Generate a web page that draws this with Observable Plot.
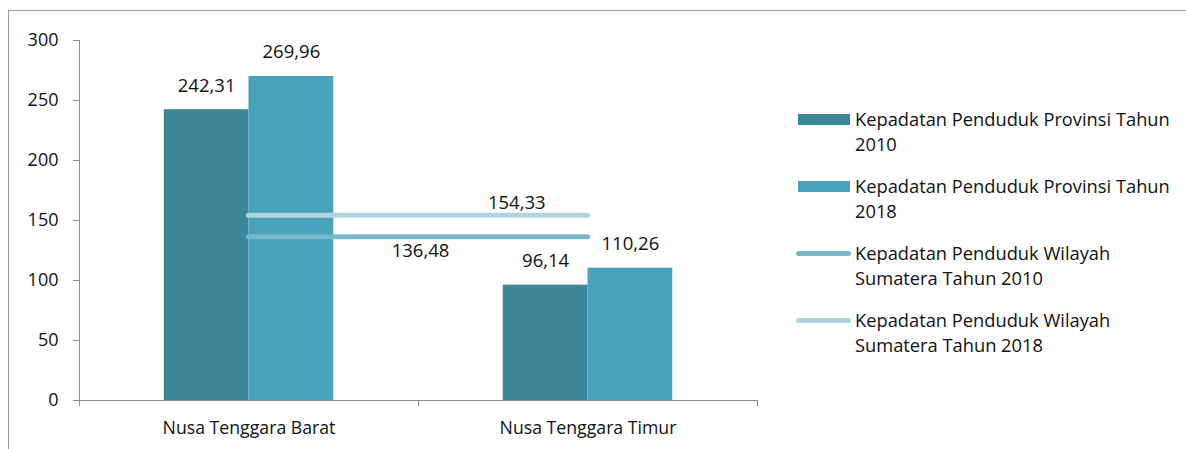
<!DOCTYPE html>
<html>
<head>
<meta charset="utf-8">
<script src="https://cdn.jsdelivr.net/npm/d3@7"></script>
<script src="https://cdn.jsdelivr.net/npm/@observablehq/plot@0.6"></script>
<style>
  html, body { margin: 0; padding: 0; background: #fff; }
  body { width: 1186px; height: 449px; position: relative; overflow: hidden; font-family: "Open Sans", Lato, sans-serif; }
  #frame { position: absolute; left: 8px; top: 10px; width: 1190px; height: 450px; border-left: 1px solid #9a9a9a; border-top: 1px solid #9a9a9a; }
  #chart { position: absolute; left: 0; top: 0; }
  #legend { position: absolute; left: 796px; top: 107px; font-size: 18.3px; color: #111; }
  .item { position: relative; height: 67px; }
  .sw { position: absolute; left: 2px; top: 7px; width: 52px; height: 11px; }
  .ln { position: absolute; left: 0; top: 10px; width: 55px; height: 5px; border-radius: 3px; }
  .tx { position: absolute; left: 59px; top: -1px; line-height: 25px; white-space: nowrap; }
</style>
</head>
<body>
<div id="frame"></div>
<div id="chart"></div>
<div id="legend"></div>
<script>
const categories = ["Nusa Tenggara Barat", "Nusa Tenggara Timur"];
const provinsi2010 = [242.31, 96.14];
const provinsi2018 = [269.96, 110.26];
const sumatera2010 = 136.48;
const sumatera2018 = 154.33;
const yTicks = [0, 50, 100, 150, 200, 250, 300];
const seriesNames = [
  "Kepadatan Penduduk Provinsi Tahun 2010",
  "Kepadatan Penduduk Provinsi Tahun 2018",
  "Kepadatan Penduduk Wilayah Sumatera Tahun 2010",
  "Kepadatan Penduduk Wilayah Sumatera Tahun 2018"
];
const colors = ["#3a8799", "#48a2bb", "#77b6cc", "#b2d4df"];

const fmt = v => v.toFixed(2).replace(".", ",");

const bars = [];
categories.forEach((c, i) => {
  bars.push({i, x1: i - 0.25, x2: i, value: provinsi2010[i], s: 0});
  bars.push({i, x1: i, x2: i + 0.25, value: provinsi2018[i], s: 1});
});
const lines = [
  {x1: 0, x2: categories.length - 1, value: sumatera2010, s: 2},
  {x1: 0, x2: categories.length - 1, value: sumatera2018, s: 3}
];

const plot = Plot.plot({
  width: 1186,
  height: 449,
  marginLeft: 79,
  marginRight: 429,
  marginTop: 40,
  marginBottom: 49,
  style: {fontFamily: "'Open Sans', Lato, sans-serif", fontSize: "18px", color: "#111", background: "transparent"},
  x: {domain: [-0.5, categories.length - 0.5], axis: null},
  y: {domain: [0, 300], axis: null},
  marks: [
    Plot.rectY(bars, {x1: "x1", x2: "x2", y1: 0, y2: "value", fill: d => colors[d.s]}),
    Plot.ruleY(lines, {x1: "x1", x2: "x2", y: "value", stroke: d => colors[d.s], strokeWidth: 5, strokeLinecap: "round"}),
    Plot.text(bars, {x: d => (d.x1 + d.x2) / 2, y: "value", text: d => fmt(d.value), dy: -24, fill: "#111", fontSize: 18.5}),
    Plot.text(lines.filter(d => d.s === 3), {x: 0.79, y: "value", text: d => fmt(d.value), dy: -12, fill: "#111", fontSize: 18.5}),
    Plot.text(lines.filter(d => d.s === 2), {x: 0.506, y: "value", text: d => fmt(d.value), dy: 14, fill: "#111", fontSize: 18.5}),
    Plot.ruleX([-0.5], {y1: 0, y2: 300, stroke: "#8a8a8a"}),
    Plot.ruleY([0], {stroke: "#8a8a8a"}),
    Plot.axisY({ticks: yTicks, tickSize: 6, tickPadding: 15, stroke: "#8a8a8a", tickFormat: d => String(d), fill: "#111", label: null, fontSize: 18}),
    Plot.axisX({ticks: [-0.5, 0.5, 1.5], tickSize: 6, tickFormat: () => "", stroke: "#8a8a8a", label: null}),
    Plot.axisX({ticks: categories.map((c, i) => i), tickSize: 0, tickPadding: 21, tickFormat: i => categories[i], fill: "#111", label: null, fontSize: 17.7})
  ]
});
document.getElementById("chart").appendChild(plot);

const legend = document.getElementById("legend");
const wrapped = [
  ["Kepadatan Penduduk Provinsi Tahun", "2010"],
  ["Kepadatan Penduduk Provinsi Tahun", "2018"],
  ["Kepadatan Penduduk Wilayah", "Sumatera Tahun 2010"],
  ["Kepadatan Penduduk Wilayah", "Sumatera Tahun 2018"]
];
seriesNames.forEach((name, k) => {
  const item = document.createElement("div");
  item.className = "item";
  const sw = document.createElement("div");
  sw.className = k < 2 ? "sw" : "ln";
  sw.style.background = colors[k];
  const tx = document.createElement("div");
  tx.className = "tx";
  tx.title = name;
  tx.innerHTML = wrapped[k].join("<br>");
  item.appendChild(sw);
  item.appendChild(tx);
  legend.appendChild(item);
});
</script>
</body>
</html>
